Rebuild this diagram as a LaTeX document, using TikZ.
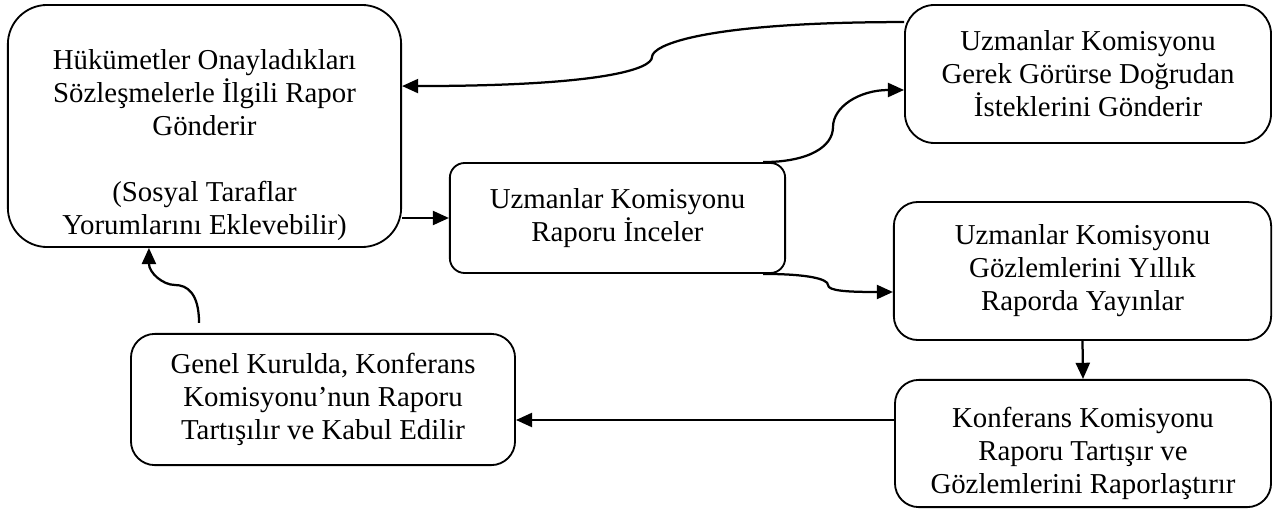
\documentclass[tikz,border=0pt]{standalone}
\usepackage{fontspec}
\setmainfont{Liberation Serif}
\usetikzlibrary{arrows.meta,positioning,calc}

\begin{document}
\begin{tikzpicture}[x=0.025cm, y=-0.025cm,
    box/.style={draw, line width=1.3pt, rounded corners=17pt, align=center, inner sep=2pt, font=\fontsize{20.5}{23.5}\selectfont},
    arrow/.style={-{Triangle[length=11.5pt,width=10pt]}, line width=1.6pt}
]
    \useasboundingbox (0,0) rectangle (1273,510);

    \node[box, rounded corners=28pt, minimum width=9.83cm, minimum height=6.05cm] (gov) at (204.5,126) {\rule{0pt}{41pt}Hükümetler Onayladıkları\\Sözleşmelerle İlgili Rapor\\Gönderir\\[23.5pt](Sosyal Taraflar\\Yorumlarını Eklevebilir)};
    \node[box, rounded corners=10.5pt, minimum width=8.38cm, minimum height=2.75cm] (inc) at (617.5,218) {Uzmanlar Komisyonu\\Raporu İnceler};
    \node[box, rounded corners=21pt, minimum width=9.15cm, minimum height=3.45cm] (req) at (1088,74) {Uzmanlar Komisyonu\\Gerek Görürse Doğrudan\\İsteklerini Gönderir};
    \node[box, minimum width=9.43cm, minimum height=3.45cm] (ann) at (1082.5,271) {Uzmanlar Komisyonu\\Gözlemlerini Yıllık\\Raporda Yayınlar};
    \node[box, minimum width=9.4cm, minimum height=3.18cm] (conf) at (1083,443.5) {\rule{0pt}{28pt}Konferans Komisyonu\\Raporu Tartışır ve\\Gözlemlerini Raporlaştırır};
    \node[box, minimum width=9.6cm, minimum height=3.28cm] (gen) at (323,399.5) {Genel Kurulda, Konferans\\Komisyonu’nun Raporu\\Tartışılır ve Kabul Edilir};

    % curved connectors
    \coordinate (kreq) at (652,57);
    \coordinate (kup) at (833,127);
    \coordinate (kdown) at (828,285);
    \coordinate (kgen) at (175,285);
    \coordinate (confout) at ($(conf.west)+(0,-23.5)$);

    \draw[arrow] (inc.west -| gov.east) -- (inc.west);
    \draw[arrow] ($(inc.north east)+(-23,0)$) .. controls +(45,0) and +(0,20) .. (kup) .. controls +(0,-20) and +(-45,0) .. ($(req.west)+(0,16)$);
    \draw[arrow] ($(inc.south east)+(-23,0)$) .. controls +(45,0) and +(0,-6) .. (kdown) .. controls +(0,6) and +(-45,0) .. ($(ann.west)+(0,21)$);
    \draw[arrow] ($(req.north west)+(0,18)$) .. controls +(-200,0) and +(0,-12) .. (kreq) .. controls +(0,12) and +(200,0) .. ($(gov.north east)+(0,82)$);
    \draw[arrow] (ann.south) -- (conf.north);
    \draw[arrow] (confout) -- (confout -| gen.east);
    \draw[arrow] ($(gen.north west)+(69,-10)$) .. controls +(0,-30) and +(12,0) .. (kgen) .. controls +(-12,0) and +(0,25) .. ($(gov.south west)+(142,0)$);
\end{tikzpicture}
\end{document}
